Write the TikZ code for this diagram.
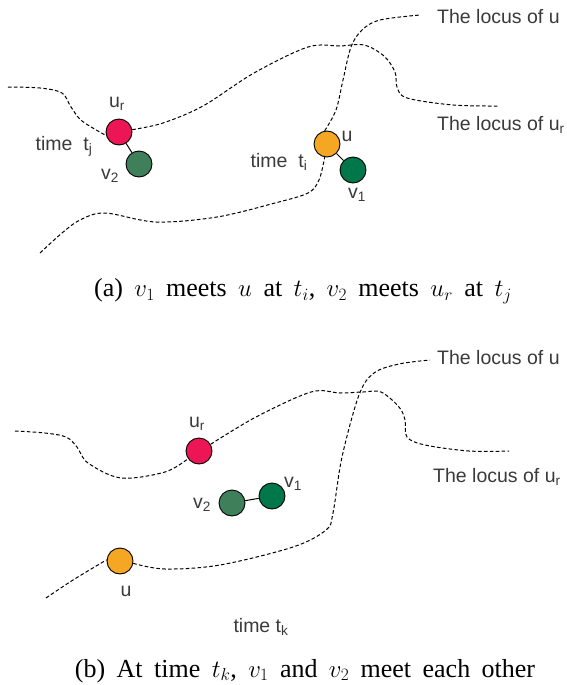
\documentclass[tikz,border=0pt]{standalone}
\usepackage{fontspec}
\setmainfont{Liberation Serif}
\newfontfamily\lblfont{Liberation Sans}
\usetikzlibrary{calc}
\definecolor{urcol}{HTML}{EC1556}
\definecolor{ucol}{HTML}{F5A623}
\definecolor{vonecol}{HTML}{00774A}
\definecolor{vtwocol}{HTML}{3F7F5A}
\definecolor{lblcol}{HTML}{3A3A3A}
\newcommand\mycapfont{\fontsize{26}{28}\selectfont}
\newcommand\mywidespace{\spaceskip=0.44em\relax}
\tikzset{
  agent/.style={circle,draw=black,line width=0.9pt,minimum size=26pt,inner sep=0pt},
  locus/.style={line width=1pt,dash pattern=on 3.6pt off 2.3pt,smooth,tension=0.55},
  link/.style={line width=1pt},
  lbl/.style={font=\lblfont\fontsize{19.5}{22}\selectfont,text=lblcol,inner sep=0pt},
  captext/.style={font=\mycapfont,inner sep=0pt}
}
\begin{document}
\begin{tikzpicture}[x=1pt,y=-1pt]
\useasboundingbox (0,0) rectangle (567,685);
% ---------- panel (a)
\node[agent,fill=urcol] (ura) at (119,132) {};
\node[agent,fill=vtwocol] (vtwoa) at (139,164) {};
\node[agent,fill=ucol] (ua) at (327,144) {};
\node[agent,fill=vonecol] (vonea) at (353,170) {};
\draw[link] (ura) -- (vtwoa);
\draw[link] (ua) -- (vonea);
\draw[locus] plot coordinates {(8,87) (40,88) (62,93) (71,107) (82,121) (ura.195)};
\draw[locus] plot coordinates {(ura.10) (163,123) (203,106) (254,73) (308,47) (340,46) (364,45) (384,56) (395,72) (397,87) (407,98) (453,105) (498,106)};
\draw[locus] plot coordinates {(40,253) (62,233) (80,220) (105,213) (156,222) (217,217) (275,203) (308,193) (319,180) (ua.260)};
\draw[locus] plot coordinates {(ua.100) (336,110) (343,80) (351,47) (362,30) (380,20) (420,15)};
\node[lbl,anchor=west] (la1) at (437,17) {The locus of u};
\node[lbl,anchor=west] (la2) at (437,125) {The locus of u\textsubscript{r}};
\node[lbl] (lura) at (117,104) {u\textsubscript{r}};
\node[lbl] (ltj) at (64,146) {time\ \ t\textsubscript{j}};
\node[lbl] (lvtwoa) at (110,176) {v\textsubscript{2}};
\node[lbl] (lua) at (347,136) {u};
\node[lbl] (lti) at (279,162) {time\ \ t\textsubscript{i}};
\node[lbl] (lvonea) at (357,195) {v\textsubscript{1}};
\node[captext] (capa) at (303,291) {\mywidespace(a) $v_1$ meets $u$ at $t_i$, $v_2$ meets $u_r$ at $t_j$};
% ---------- panel (b)
\node[agent,fill=urcol] (urb) at (199,451) {};
\node[agent,fill=ucol] (ub) at (120,561) {};
\node[agent,fill=vtwocol] (vtwob) at (232,503) {};
\node[agent,fill=vonecol] (voneb) at (272,496) {};
\draw[link] (vtwob) -- (voneb);
\draw[locus] plot coordinates {(15,431) (45,433) (66,437) (77,447) (88,463) (121,478) (165,472) (urb.215)};
\draw[locus] plot coordinates {(urb.30) (256,417) (311,392) (340,393) (363,392) (381,392) (399,407) (405,420) (407,437) (425,445) (469,451) (509,451)};
\draw[locus] plot coordinates {(46,598) (73,580) (ub.175)};
\draw[locus] plot coordinates {(ub.-10) (165,569) (220,565) (293,547) (326,530) (333,513) (342,457) (359,395) (374,373) (399,364) (430,360)};
\node[lbl,anchor=west] (lb1) at (437,358) {The locus of u};
\node[lbl,anchor=west] (lb2) at (433,477) {The locus of u\textsubscript{r}};
\node[lbl] (lurb) at (197,424) {u\textsubscript{r}};
\node[lbl] (lvoneb) at (293,484) {v\textsubscript{1}};
\node[lbl] (lvtwob) at (202,505) {v\textsubscript{2}};
\node[lbl] (lub) at (126,591) {u};
\node[lbl] (ltk) at (261,627) {time t\textsubscript{k}};
\node[captext] (capb) at (305,671) {\mywidespace(b) At time $t_k$, $v_1$ and $v_2$ meet each other};
\end{tikzpicture}
\end{document}
